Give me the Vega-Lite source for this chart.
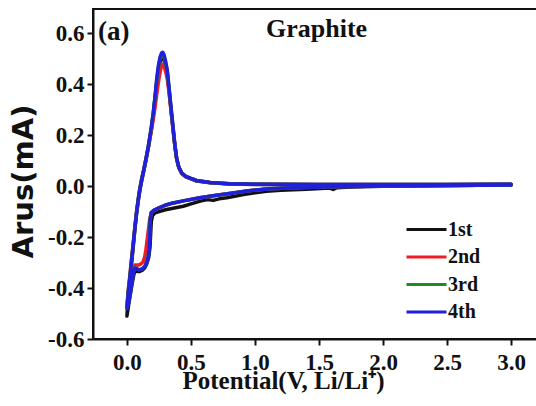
{
  "$schema": "https://vega.github.io/schema/vega-lite/v6.json",
  "width": 445,
  "height": 330,
  "autosize": {"type": "none"},
  "padding": {"left": 93, "top": 9, "right": 0, "bottom": 67},
  "background": "white",
  "config": {
    "view": {"stroke": "#111", "strokeWidth": 2},
    "axis": {
      "domainColor": "#111",
      "domainWidth": 2,
      "tickColor": "#111",
      "tickWidth": 2,
      "grid": false,
      "labelFlush": false,
      "labelOverlap": false
    }
  },
  "layer": [
    {
      "data": {
        "values": [
          {"c": "1st", "v": 3.0, "i": 0.004}, {"c": "1st", "v": 2.5, "i": 0.002}, {"c": "1st", "v": 2.0, "i": -0.001},
          {"c": "1st", "v": 1.75, "i": -0.004}, {"c": "1st", "v": 1.64, "i": -0.006}, {"c": "1st", "v": 1.61, "i": -0.013},
          {"c": "1st", "v": 1.58, "i": -0.007}, {"c": "1st", "v": 1.4, "i": -0.012}, {"c": "1st", "v": 1.2, "i": -0.016},
          {"c": "1st", "v": 1.09, "i": -0.02}, {"c": "1st", "v": 1.0, "i": -0.026}, {"c": "1st", "v": 0.91, "i": -0.033},
          {"c": "1st", "v": 0.84, "i": -0.04}, {"c": "1st", "v": 0.78, "i": -0.046}, {"c": "1st", "v": 0.72, "i": -0.05},
          {"c": "1st", "v": 0.674, "i": -0.056}, {"c": "1st", "v": 0.63, "i": -0.053}, {"c": "1st", "v": 0.58, "i": -0.058},
          {"c": "1st", "v": 0.5, "i": -0.07}, {"c": "1st", "v": 0.44, "i": -0.079}, {"c": "1st", "v": 0.35, "i": -0.088},
          {"c": "1st", "v": 0.3, "i": -0.093}, {"c": "1st", "v": 0.258, "i": -0.099}, {"c": "1st", "v": 0.22, "i": -0.105},
          {"c": "1st", "v": 0.2, "i": -0.115}, {"c": "1st", "v": 0.19, "i": -0.14}, {"c": "1st", "v": 0.185, "i": -0.19},
          {"c": "1st", "v": 0.18, "i": -0.24}, {"c": "1st", "v": 0.17, "i": -0.28}, {"c": "1st", "v": 0.155, "i": -0.305},
          {"c": "1st", "v": 0.14, "i": -0.32}, {"c": "1st", "v": 0.12, "i": -0.33}, {"c": "1st", "v": 0.1, "i": -0.335},
          {"c": "1st", "v": 0.085, "i": -0.335}, {"c": "1st", "v": 0.07, "i": -0.33}, {"c": "1st", "v": 0.055, "i": -0.345},
          {"c": "1st", "v": 0.04, "i": -0.385}, {"c": "1st", "v": 0.025, "i": -0.43}, {"c": "1st", "v": 0.012, "i": -0.47},
          {"c": "1st", "v": 0.0, "i": -0.51},
          {"c": "1st", "v": 0.01, "i": -0.43}, {"c": "1st", "v": 0.023, "i": -0.37}, {"c": "1st", "v": 0.035, "i": -0.31},
          {"c": "1st", "v": 0.049, "i": -0.24}, {"c": "1st", "v": 0.062, "i": -0.17}, {"c": "1st", "v": 0.075, "i": -0.11},
          {"c": "1st", "v": 0.088, "i": -0.06}, {"c": "1st", "v": 0.1, "i": -0.02}, {"c": "1st", "v": 0.115, "i": 0.02},
          {"c": "1st", "v": 0.13, "i": 0.055}, {"c": "1st", "v": 0.15, "i": 0.105}, {"c": "1st", "v": 0.167, "i": 0.15},
          {"c": "1st", "v": 0.19, "i": 0.22}, {"c": "1st", "v": 0.206, "i": 0.28}, {"c": "1st", "v": 0.22, "i": 0.345},
          {"c": "1st", "v": 0.232, "i": 0.4}, {"c": "1st", "v": 0.245, "i": 0.45}, {"c": "1st", "v": 0.258, "i": 0.485},
          {"c": "1st", "v": 0.27, "i": 0.503}, {"c": "1st", "v": 0.28, "i": 0.505}, {"c": "1st", "v": 0.29, "i": 0.495},
          {"c": "1st", "v": 0.302, "i": 0.47}, {"c": "1st", "v": 0.315, "i": 0.44}, {"c": "1st", "v": 0.326, "i": 0.39},
          {"c": "1st", "v": 0.336, "i": 0.34}, {"c": "1st", "v": 0.35, "i": 0.27}, {"c": "1st", "v": 0.362, "i": 0.215},
          {"c": "1st", "v": 0.375, "i": 0.155}, {"c": "1st", "v": 0.388, "i": 0.108}, {"c": "1st", "v": 0.405, "i": 0.073},
          {"c": "1st", "v": 0.427, "i": 0.05}, {"c": "1st", "v": 0.46, "i": 0.036}, {"c": "1st", "v": 0.5, "i": 0.028},
          {"c": "1st", "v": 0.544, "i": 0.02}, {"c": "1st", "v": 0.65, "i": 0.013}, {"c": "1st", "v": 0.8, "i": 0.008},
          {"c": "1st", "v": 1.0, "i": 0.006}, {"c": "1st", "v": 1.5, "i": 0.005}, {"c": "1st", "v": 2.0, "i": 0.005},
          {"c": "1st", "v": 2.5, "i": 0.005}, {"c": "1st", "v": 3.0, "i": 0.006},

          {"c": "2nd", "v": 3.0, "i": 0.004}, {"c": "2nd", "v": 2.5, "i": 0.002}, {"c": "2nd", "v": 2.0, "i": 0.0},
          {"c": "2nd", "v": 1.6, "i": -0.003}, {"c": "2nd", "v": 1.3, "i": -0.006}, {"c": "2nd", "v": 1.09, "i": -0.011},
          {"c": "2nd", "v": 0.95, "i": -0.018}, {"c": "2nd", "v": 0.83, "i": -0.027}, {"c": "2nd", "v": 0.7, "i": -0.036},
          {"c": "2nd", "v": 0.57, "i": -0.046}, {"c": "2nd", "v": 0.45, "i": -0.057}, {"c": "2nd", "v": 0.36, "i": -0.067},
          {"c": "2nd", "v": 0.31, "i": -0.074}, {"c": "2nd", "v": 0.25, "i": -0.086}, {"c": "2nd", "v": 0.21, "i": -0.096},
          {"c": "2nd", "v": 0.19, "i": -0.106}, {"c": "2nd", "v": 0.178, "i": -0.13}, {"c": "2nd", "v": 0.168, "i": -0.17},
          {"c": "2nd", "v": 0.158, "i": -0.21}, {"c": "2nd", "v": 0.148, "i": -0.25}, {"c": "2nd", "v": 0.138, "i": -0.28},
          {"c": "2nd", "v": 0.125, "i": -0.298}, {"c": "2nd", "v": 0.11, "i": -0.305}, {"c": "2nd", "v": 0.09, "i": -0.31},
          {"c": "2nd", "v": 0.075, "i": -0.31}, {"c": "2nd", "v": 0.062, "i": -0.31}, {"c": "2nd", "v": 0.05, "i": -0.33},
          {"c": "2nd", "v": 0.037, "i": -0.37}, {"c": "2nd", "v": 0.023, "i": -0.42}, {"c": "2nd", "v": 0.01, "i": -0.455},
          {"c": "2nd", "v": 0.0, "i": -0.47},
          {"c": "2nd", "v": 0.01, "i": -0.41}, {"c": "2nd", "v": 0.023, "i": -0.35}, {"c": "2nd", "v": 0.035, "i": -0.29},
          {"c": "2nd", "v": 0.049, "i": -0.225}, {"c": "2nd", "v": 0.062, "i": -0.16}, {"c": "2nd", "v": 0.075, "i": -0.1},
          {"c": "2nd", "v": 0.088, "i": -0.05}, {"c": "2nd", "v": 0.1, "i": -0.01}, {"c": "2nd", "v": 0.115, "i": 0.03},
          {"c": "2nd", "v": 0.13, "i": 0.063}, {"c": "2nd", "v": 0.15, "i": 0.11}, {"c": "2nd", "v": 0.17, "i": 0.16},
          {"c": "2nd", "v": 0.19, "i": 0.215}, {"c": "2nd", "v": 0.21, "i": 0.275}, {"c": "2nd", "v": 0.225, "i": 0.33},
          {"c": "2nd", "v": 0.238, "i": 0.38}, {"c": "2nd", "v": 0.25, "i": 0.42}, {"c": "2nd", "v": 0.262, "i": 0.455},
          {"c": "2nd", "v": 0.272, "i": 0.475}, {"c": "2nd", "v": 0.28, "i": 0.478}, {"c": "2nd", "v": 0.29, "i": 0.47},
          {"c": "2nd", "v": 0.302, "i": 0.45}, {"c": "2nd", "v": 0.315, "i": 0.42}, {"c": "2nd", "v": 0.326, "i": 0.38},
          {"c": "2nd", "v": 0.336, "i": 0.335}, {"c": "2nd", "v": 0.35, "i": 0.27}, {"c": "2nd", "v": 0.362, "i": 0.215},
          {"c": "2nd", "v": 0.375, "i": 0.155}, {"c": "2nd", "v": 0.388, "i": 0.108}, {"c": "2nd", "v": 0.405, "i": 0.073},
          {"c": "2nd", "v": 0.427, "i": 0.05}, {"c": "2nd", "v": 0.46, "i": 0.037}, {"c": "2nd", "v": 0.5, "i": 0.029},
          {"c": "2nd", "v": 0.544, "i": 0.021}, {"c": "2nd", "v": 0.65, "i": 0.014}, {"c": "2nd", "v": 0.8, "i": 0.009},
          {"c": "2nd", "v": 1.0, "i": 0.007}, {"c": "2nd", "v": 1.5, "i": 0.006}, {"c": "2nd", "v": 2.0, "i": 0.006},
          {"c": "2nd", "v": 2.5, "i": 0.006}, {"c": "2nd", "v": 3.0, "i": 0.007},

          {"c": "3rd", "v": 3.0, "i": 0.004}, {"c": "3rd", "v": 2.5, "i": 0.002}, {"c": "3rd", "v": 2.0, "i": 0.0},
          {"c": "3rd", "v": 1.6, "i": -0.003}, {"c": "3rd", "v": 1.3, "i": -0.006}, {"c": "3rd", "v": 1.09, "i": -0.011},
          {"c": "3rd", "v": 0.95, "i": -0.018}, {"c": "3rd", "v": 0.83, "i": -0.027}, {"c": "3rd", "v": 0.7, "i": -0.036},
          {"c": "3rd", "v": 0.57, "i": -0.046}, {"c": "3rd", "v": 0.45, "i": -0.057}, {"c": "3rd", "v": 0.36, "i": -0.066},
          {"c": "3rd", "v": 0.31, "i": -0.073}, {"c": "3rd", "v": 0.25, "i": -0.085}, {"c": "3rd", "v": 0.21, "i": -0.095},
          {"c": "3rd", "v": 0.19, "i": -0.104}, {"c": "3rd", "v": 0.182, "i": -0.13}, {"c": "3rd", "v": 0.179, "i": -0.17},
          {"c": "3rd", "v": 0.176, "i": -0.21}, {"c": "3rd", "v": 0.172, "i": -0.25}, {"c": "3rd", "v": 0.164, "i": -0.28},
          {"c": "3rd", "v": 0.153, "i": -0.3}, {"c": "3rd", "v": 0.14, "i": -0.314}, {"c": "3rd", "v": 0.127, "i": -0.321},
          {"c": "3rd", "v": 0.11, "i": -0.326}, {"c": "3rd", "v": 0.088, "i": -0.327}, {"c": "3rd", "v": 0.075, "i": -0.322},
          {"c": "3rd", "v": 0.062, "i": -0.321}, {"c": "3rd", "v": 0.05, "i": -0.34}, {"c": "3rd", "v": 0.037, "i": -0.38},
          {"c": "3rd", "v": 0.023, "i": -0.43}, {"c": "3rd", "v": 0.01, "i": -0.46}, {"c": "3rd", "v": 0.0, "i": -0.475},
          {"c": "3rd", "v": 0.01, "i": -0.415}, {"c": "3rd", "v": 0.023, "i": -0.355}, {"c": "3rd", "v": 0.035, "i": -0.295},
          {"c": "3rd", "v": 0.049, "i": -0.228}, {"c": "3rd", "v": 0.062, "i": -0.163}, {"c": "3rd", "v": 0.075, "i": -0.104},
          {"c": "3rd", "v": 0.088, "i": -0.054}, {"c": "3rd", "v": 0.1, "i": -0.014}, {"c": "3rd", "v": 0.115, "i": 0.025},
          {"c": "3rd", "v": 0.13, "i": 0.06}, {"c": "3rd", "v": 0.15, "i": 0.11}, {"c": "3rd", "v": 0.167, "i": 0.155},
          {"c": "3rd", "v": 0.19, "i": 0.228}, {"c": "3rd", "v": 0.206, "i": 0.288}, {"c": "3rd", "v": 0.22, "i": 0.352},
          {"c": "3rd", "v": 0.232, "i": 0.413}, {"c": "3rd", "v": 0.245, "i": 0.465}, {"c": "3rd", "v": 0.258, "i": 0.498},
          {"c": "3rd", "v": 0.27, "i": 0.513}, {"c": "3rd", "v": 0.28, "i": 0.516}, {"c": "3rd", "v": 0.29, "i": 0.507},
          {"c": "3rd", "v": 0.302, "i": 0.484}, {"c": "3rd", "v": 0.315, "i": 0.45}, {"c": "3rd", "v": 0.326, "i": 0.397},
          {"c": "3rd", "v": 0.336, "i": 0.348}, {"c": "3rd", "v": 0.35, "i": 0.278}, {"c": "3rd", "v": 0.362, "i": 0.22},
          {"c": "3rd", "v": 0.375, "i": 0.158}, {"c": "3rd", "v": 0.388, "i": 0.109}, {"c": "3rd", "v": 0.405, "i": 0.074},
          {"c": "3rd", "v": 0.427, "i": 0.052}, {"c": "3rd", "v": 0.46, "i": 0.038}, {"c": "3rd", "v": 0.5, "i": 0.03},
          {"c": "3rd", "v": 0.544, "i": 0.022}, {"c": "3rd", "v": 0.65, "i": 0.014}, {"c": "3rd", "v": 0.8, "i": 0.009},
          {"c": "3rd", "v": 1.0, "i": 0.007}, {"c": "3rd", "v": 1.5, "i": 0.006}, {"c": "3rd", "v": 2.0, "i": 0.006},
          {"c": "3rd", "v": 2.5, "i": 0.006}, {"c": "3rd", "v": 3.0, "i": 0.007},

          {"c": "4th", "v": 3.0, "i": 0.004}, {"c": "4th", "v": 2.5, "i": 0.002}, {"c": "4th", "v": 2.0, "i": 0.0},
          {"c": "4th", "v": 1.6, "i": -0.003}, {"c": "4th", "v": 1.3, "i": -0.006}, {"c": "4th", "v": 1.09, "i": -0.011},
          {"c": "4th", "v": 0.95, "i": -0.018}, {"c": "4th", "v": 0.83, "i": -0.027}, {"c": "4th", "v": 0.7, "i": -0.036},
          {"c": "4th", "v": 0.57, "i": -0.046}, {"c": "4th", "v": 0.45, "i": -0.057}, {"c": "4th", "v": 0.36, "i": -0.066},
          {"c": "4th", "v": 0.31, "i": -0.073}, {"c": "4th", "v": 0.25, "i": -0.085}, {"c": "4th", "v": 0.21, "i": -0.095},
          {"c": "4th", "v": 0.19, "i": -0.104}, {"c": "4th", "v": 0.182, "i": -0.13}, {"c": "4th", "v": 0.18, "i": -0.17},
          {"c": "4th", "v": 0.178, "i": -0.21}, {"c": "4th", "v": 0.174, "i": -0.25}, {"c": "4th", "v": 0.165, "i": -0.28},
          {"c": "4th", "v": 0.154, "i": -0.3}, {"c": "4th", "v": 0.14, "i": -0.315}, {"c": "4th", "v": 0.127, "i": -0.322},
          {"c": "4th", "v": 0.11, "i": -0.327}, {"c": "4th", "v": 0.088, "i": -0.328}, {"c": "4th", "v": 0.075, "i": -0.323},
          {"c": "4th", "v": 0.062, "i": -0.322}, {"c": "4th", "v": 0.05, "i": -0.34}, {"c": "4th", "v": 0.037, "i": -0.38},
          {"c": "4th", "v": 0.023, "i": -0.43}, {"c": "4th", "v": 0.01, "i": -0.465}, {"c": "4th", "v": 0.0, "i": -0.48},
          {"c": "4th", "v": 0.01, "i": -0.42}, {"c": "4th", "v": 0.023, "i": -0.36}, {"c": "4th", "v": 0.035, "i": -0.3},
          {"c": "4th", "v": 0.049, "i": -0.23}, {"c": "4th", "v": 0.062, "i": -0.165}, {"c": "4th", "v": 0.075, "i": -0.105},
          {"c": "4th", "v": 0.088, "i": -0.055}, {"c": "4th", "v": 0.1, "i": -0.015}, {"c": "4th", "v": 0.115, "i": 0.025},
          {"c": "4th", "v": 0.13, "i": 0.06}, {"c": "4th", "v": 0.15, "i": 0.11}, {"c": "4th", "v": 0.167, "i": 0.156},
          {"c": "4th", "v": 0.19, "i": 0.23}, {"c": "4th", "v": 0.206, "i": 0.29}, {"c": "4th", "v": 0.22, "i": 0.355},
          {"c": "4th", "v": 0.232, "i": 0.418}, {"c": "4th", "v": 0.245, "i": 0.47}, {"c": "4th", "v": 0.258, "i": 0.505},
          {"c": "4th", "v": 0.27, "i": 0.522}, {"c": "4th", "v": 0.28, "i": 0.525}, {"c": "4th", "v": 0.29, "i": 0.515},
          {"c": "4th", "v": 0.302, "i": 0.49}, {"c": "4th", "v": 0.315, "i": 0.455}, {"c": "4th", "v": 0.326, "i": 0.4},
          {"c": "4th", "v": 0.336, "i": 0.35}, {"c": "4th", "v": 0.35, "i": 0.28}, {"c": "4th", "v": 0.362, "i": 0.222},
          {"c": "4th", "v": 0.375, "i": 0.16}, {"c": "4th", "v": 0.388, "i": 0.11}, {"c": "4th", "v": 0.405, "i": 0.075},
          {"c": "4th", "v": 0.427, "i": 0.052}, {"c": "4th", "v": 0.46, "i": 0.038}, {"c": "4th", "v": 0.5, "i": 0.03},
          {"c": "4th", "v": 0.544, "i": 0.022}, {"c": "4th", "v": 0.65, "i": 0.014}, {"c": "4th", "v": 0.8, "i": 0.009},
          {"c": "4th", "v": 1.0, "i": 0.007}, {"c": "4th", "v": 1.5, "i": 0.006}, {"c": "4th", "v": 2.0, "i": 0.006},
          {"c": "4th", "v": 2.5, "i": 0.006}, {"c": "4th", "v": 3.0, "i": 0.007}
        ]
      },
      "mark": {"type": "line", "strokeWidth": 3.5, "strokeCap": "round", "strokeJoin": "round"},
      "encoding": {
        "x": {
          "field": "v",
          "type": "quantitative",
          "scale": {"domain": [-0.265, 3.21], "nice": false, "zero": false},
          "axis": {
            "values": [0, 0.25, 0.5, 0.75, 1, 1.25, 1.5, 1.75, 2, 2.25, 2.5, 2.75, 3],
            "labelExpr": "round(datum.value*4) % 2 != 0 ? '' : format(datum.value, '.1f')",
            "tickSize": {"condition": {"test": "round(datum.value*4) % 2 != 0", "value": 3}, "value": 6},
            "labelFont": "Liberation Serif",
            "labelFontWeight": "bold",
            "labelFontSize": 23,
            "labelColor": "#111",
            "labelPadding": 6,
            "title": "Potential(V, Li/Li⁺)",
            "titleFont": "Liberation Serif",
            "titleFontWeight": "bold",
            "titleFontSize": 25,
            "titleColor": "#111",
            "titleX": 190,
            "titleY": 49,
            "titleAlign": "center",
            "titleBaseline": "alphabetic"
          }
        },
        "y": {
          "field": "i",
          "type": "quantitative",
          "scale": {"domain": [-0.6, 0.695], "nice": false, "zero": false},
          "axis": {
            "values": [-0.6, -0.5, -0.4, -0.3, -0.2, -0.1, 0, 0.1, 0.2, 0.3, 0.4, 0.5, 0.6],
            "labelExpr": "round(datum.value*10) % 2 != 0 ? '' : replace(format(datum.value, '.1f'), '\u2212', '-')",
            "tickSize": {"condition": {"test": "round(datum.value*10) % 2 != 0", "value": 3}, "value": 6},
            "labelFont": "Liberation Serif",
            "labelFontWeight": "bold",
            "labelFontSize": 23,
            "labelColor": "#111",
            "labelPadding": 3,
            "title": "Arus(mA)",
            "titleFont": "DejaVu Sans",
            "titleFontWeight": "bold",
            "titleFontSize": 29,
            "titleColor": "#111",
            "titleAngle": -90,
            "titleX": -70,
            "titleY": 172,
            "titleAlign": "center",
            "titleBaseline": "middle"
          }
        },
        "color": {
          "field": "c",
          "type": "nominal",
          "scale": {"domain": ["1st", "2nd", "3rd", "4th"], "range": ["#111111", "#ee1c24", "#1e8c23", "#1f1fdc"]},
          "legend": {
            "orient": "none",
            "legendX": 322,
            "legendY": 209,
            "title": null,
            "padding": 0,
            "symbolType": "M-2,0H2",
            "symbolSize": 400,
            "symbolStrokeWidth": 3,
            "labelFont": "Liberation Serif",
            "labelFontWeight": "bold",
            "labelFontSize": 20,
            "labelColor": "#111",
            "labelOffset": 10,
            "rowPadding": 5.5
          }
        },
        "order": {"value": null}
      }
    },
    {
      "data": {"values": [{}]},
      "mark": {"type": "text", "text": "(a)", "font": "Liberation Serif", "fontWeight": "bold", "fontSize": 27, "color": "#111", "align": "left", "baseline": "alphabetic"},
      "encoding": {"x": {"datum": -0.226}, "y": {"datum": 0.573}}
    },
    {
      "data": {"values": [{}]},
      "mark": {"type": "text", "text": "Graphite", "font": "Liberation Serif", "fontWeight": "bold", "fontSize": 26, "color": "#111", "align": "left", "baseline": "alphabetic"},
      "encoding": {"x": {"datum": 1.086}, "y": {"datum": 0.585}}
    }
  ]
}
